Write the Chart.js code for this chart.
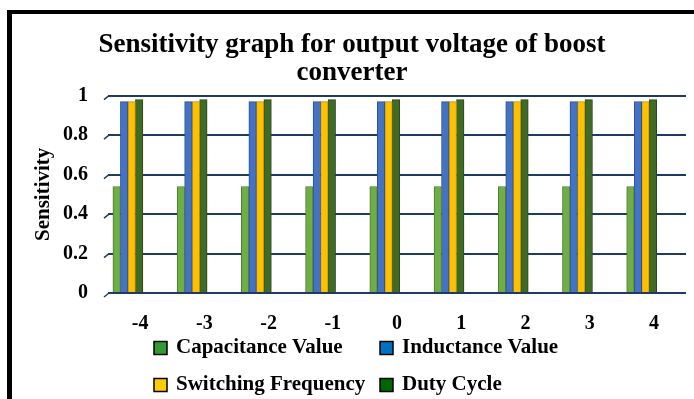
<!DOCTYPE html>
<html>
<head>
<meta charset="utf-8">
<script src="https://cdn.jsdelivr.net/npm/chart.js@4.4.1/dist/chart.umd.min.js"></script>
<style>
    html, body { margin: 0; padding: 0; background: #fff; overflow: hidden; }
    #wrap { position: relative; width: 694px; height: 399px; }
    #frame { position: absolute; left: 7px; top: 10px; width: 720px; height: 420px; border-left: 5px solid #000; border-top: 4px solid #000; }
    #chart { position: absolute; left: 0; top: 0; }
</style>
</head>
<body>
<div id="wrap">
    <div id="frame"></div>
    <canvas id="chart" width="694" height="399"></canvas>
</div>
<script>
// Data
const categories = [-4, -3, -2, -1, 0, 1, 2, 3, 4];
const capacitanceValue = [0.54, 0.54, 0.54, 0.54, 0.54, 0.54, 0.54, 0.54, 0.54];
const inductanceValue = [0.97, 0.97, 0.97, 0.97, 0.97, 0.97, 0.97, 0.97, 0.97];
const switchingFrequency = [0.97, 0.97, 0.97, 0.97, 0.97, 0.97, 0.97, 0.97, 0.97];
const dutyCycle = [0.98, 0.98, 0.98, 0.98, 0.98, 0.98, 0.98, 0.98, 0.98];
const seriesNames = ["Capacitance Value", "Inductance Value", "Switching Frequency", "Duty Cycle"];
const titleLines = ["Sensitivity graph for output voltage of boost", "converter"];
const yTitle = "Sensitivity";

// Style
const serif = "'Liberation Serif', 'Times New Roman', serif";
const barColors = ["#70ad47", "#4472c4", "#ffc000", "#3f6b26"];
const barBorders = ["#4e7a31", "#2f528f", "#bf9000", "#2a4719"];
const legendColors = ["#339933", "#0070c0", "#ffcc00", "#006600"];
const gridColor = "#1f3b63";

// Function
const toPoints = (values) => values.map((v, i) => ({x: categories[i], y: v}));

const makeDataset = (label, values, i) => ({
    label: label,
    data: toPoints(values),
    xAxisID: "xb",
    backgroundColor: barColors[i],
    borderColor: barBorders[i],
    borderWidth: 1,
    barThickness: 7.5
});

// little slanted stubs on the left end of each grid line (3D wall edge)
const wallStubs = {
    id: "wallStubs",
    afterDatasetsDraw(chart) {
        const {ctx, chartArea, scales} = chart;
        ctx.save();
        ctx.strokeStyle = gridColor;
        ctx.lineWidth = 1.5;
        scales.y.ticks.forEach(t => {
            const y = scales.y.getPixelForValue(t.value);
            ctx.beginPath();
            ctx.moveTo(chartArea.left - 4, y + 4);
            ctx.lineTo(chartArea.left + 1, y);
            ctx.stroke();
        });
        ctx.restore();
    }
};

// legend in two rows of two, as in the original
const gridLegend = {
    id: "gridLegend",
    afterDraw(chart) {
        const ctx = chart.ctx;
        const cols = [154, 380];
        const rows = [348, 385];
        ctx.save();
        ctx.font = "bold 21px " + serif;
        ctx.textBaseline = "middle";
        ctx.textAlign = "left";
        chart.data.datasets.forEach((ds, i) => {
            const x = cols[i % 2];
            const y = rows[Math.floor(i / 2)];
            ctx.fillStyle = legendColors[i];
            ctx.fillRect(x, y - 6.5, 13, 13);
            ctx.strokeStyle = "#000";
            ctx.lineWidth = 1.5;
            ctx.strokeRect(x, y - 6.5, 13, 13);
            ctx.fillStyle = "#000";
            ctx.fillText(ds.label, x + 22, y);
        });
        ctx.restore();
    }
};

// Init
new Chart(document.querySelector("#chart"), {
    type: "bar",
    data: {
        datasets: [
            makeDataset(seriesNames[0], capacitanceValue, 0),
            makeDataset(seriesNames[1], inductanceValue, 1),
            makeDataset(seriesNames[2], switchingFrequency, 2),
            makeDataset(seriesNames[3], dutyCycle, 3)
        ]
    },
    options: {
        responsive: false,
        animation: false,
        layout: {
            padding: {left: 18, right: 8, top: 0, bottom: 56}
        },
        plugins: {
            legend: {display: false},
            tooltip: {enabled: false},
            title: {
                display: true,
                text: titleLines,
                color: "#000",
                font: {family: serif, size: 27, weight: "bold", lineHeight: 1.05},
                padding: {top: 31, bottom: 8}
            }
        },
        scales: {
            x: {
                type: "category",
                labels: categories.map(String),
                offset: true,
                grid: {display: false, drawTicks: false},
                border: {display: false},
                ticks: {
                    color: "#000",
                    font: {family: serif, size: 20, weight: "bold"},
                    padding: 19
                },
                afterFit: (scale) => { scale.height = 50; }
            },
            xb: {
                type: "linear",
                display: false,
                offset: false,
                min: -4.31,
                max: 4.69
            },
            y: {
                min: 0,
                max: 1,
                ticks: {
                    stepSize: 0.2,
                    color: "#000",
                    font: {family: serif, size: 20, weight: "bold"},
                    padding: 20,
                    callback: (v) => String(Number(v.toFixed(1)))
                },
                grid: {color: gridColor, lineWidth: 2, drawTicks: false},
                border: {display: false},
                title: {
                    display: true,
                    text: yTitle,
                    color: "#000",
                    font: {family: serif, size: 21, weight: "bold"},
                    padding: {top: 13, bottom: 0}
                },
                afterFit: (scale) => { scale.width = 90; }
            }
        }
    },
    plugins: [wallStubs, gridLegend]
});
</script>
</body>
</html>
